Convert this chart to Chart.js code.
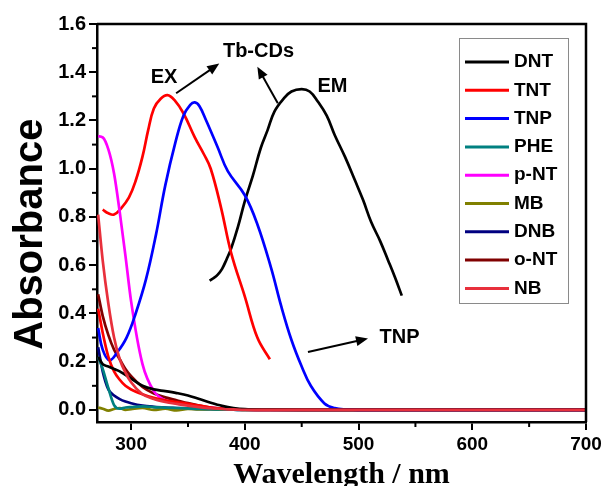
<!DOCTYPE html>
<html>
<head>
<meta charset="utf-8">
<script src="https://cdn.jsdelivr.net/npm/chart.js@4.4.0/dist/chart.umd.min.js"></script>
<style>
  body { margin: 0; background: #fff; }
  canvas { display: block; }
</style>
</head>
<body>
<canvas id="grafico" width="605" height="486"></canvas>
<script>
// grade comum das curvas de absorcao pequenas (nm)
const comprimentos = [271, 275, 280, 285, 290, 295, 300, 310, 320, 330, 340, 350, 360, 370, 380, 390, 400, 420, 450, 500, 600, 700];

const dnt  = [0.22, 0.19, 0.18, 0.17, 0.16, 0.145, 0.13, 0.10, 0.085, 0.078, 0.07, 0.06, 0.045, 0.03, 0.017, 0.008, 0.003, 0.001, 0, 0, 0, 0];
const tnt  = [0.42, 0.32, 0.22, 0.16, 0.125, 0.10, 0.085, 0.065, 0.05, 0.04, 0.033, 0.025, 0.018, 0.01, 0.006, 0.003, 0.001, 0, 0, 0, 0, 0];
const phe  = [0.22, 0.17, 0.09, 0.02, 0.005, 0.01, 0.012, 0.015, 0.012, 0.01, 0.008, 0.006, 0.004, 0.003, 0.002, 0.001, 0, 0, 0, 0, 0, 0];
const pnt  = [1.135, 1.13, 1.08, 0.98, 0.82, 0.64, 0.45, 0.19, 0.078, 0.04, 0.027, 0.02, 0.014, 0.009, 0.005, 0.003, 0.001, 0, 0, 0, 0, 0];
const mb   = [0.01, 0.005, -0.003, 0.004, 0.008, 0.0, 0.003, 0.008, 0.0, 0.005, -0.002, 0.004, 0.002, 0.003, 0.001, 0.002, 0, 0, 0, 0, 0, 0];
const dnb  = [0.26, 0.16, 0.085, 0.06, 0.045, 0.035, 0.028, 0.018, 0.013, 0.01, 0.008, 0.006, 0.004, 0.003, 0.002, 0.001, 0, 0, 0, 0, 0, 0];
const ont  = [0.48, 0.39, 0.31, 0.25, 0.21, 0.17, 0.14, 0.095, 0.068, 0.052, 0.04, 0.028, 0.018, 0.01, 0.005, 0.002, 0.001, 0, 0, 0, 0, 0];
const nb   = [0.81, 0.62, 0.44, 0.30, 0.21, 0.155, 0.115, 0.065, 0.045, 0.033, 0.025, 0.018, 0.012, 0.007, 0.004, 0.002, 0, 0, 0, 0, 0, 0];

// TNP tem banda larga
const tnpX = [271, 275, 281, 288, 296, 304, 313, 322, 330, 339, 346, 352, 356, 360, 366, 376, 385, 400, 411, 423, 432, 441, 450, 458, 470, 479, 490, 500, 600, 700];
const tnpY = [0.34, 0.25, 0.206, 0.24, 0.30, 0.40, 0.54, 0.73, 0.93, 1.11, 1.22, 1.265, 1.275, 1.26, 1.20, 1.09, 0.99, 0.89, 0.77, 0.59, 0.43, 0.29, 0.18, 0.10, 0.027, 0.008, 0.002, 0, 0, 0];

// espectros do Tb-CDs (excitacao e emissao)
const exX = [275, 280, 285, 291, 298, 304, 310, 315, 320, 326, 332, 338, 346, 356, 364, 370, 379, 388, 400, 411, 422];
const exY = [0.83, 0.815, 0.81, 0.835, 0.88, 0.95, 1.05, 1.16, 1.25, 1.29, 1.305, 1.285, 1.23, 1.13, 1.06, 1.0, 0.84, 0.65, 0.47, 0.30, 0.21];
const emX = [369, 372, 376, 380, 384, 388, 394, 400, 407, 414, 420, 426, 434, 441, 450, 457, 464, 472, 479, 488, 497, 504, 511, 519, 526, 532, 538];
const emY = [0.536, 0.545, 0.56, 0.585, 0.625, 0.67, 0.76, 0.866, 0.97, 1.086, 1.16, 1.237, 1.29, 1.32, 1.33, 1.32, 1.28, 1.22, 1.14, 1.05, 0.95, 0.87, 0.78, 0.70, 0.62, 0.55, 0.474];

const ticksX = [300, 400, 500, 600, 700];
const ticksY = [0, 0.2, 0.4, 0.6, 0.8, 1.0, 1.2, 1.4, 1.6];
const menoresX = [350, 450, 550, 650];
const menoresY = [0.1, 0.3, 0.5, 0.7, 0.9, 1.1, 1.3, 1.5];

// textos e setas, em unidades dos eixos
const anotacoes = [
  { texto: "Tb-CDs", x: 412, y: 1.485 },
  { texto: "EX", x: 329, y: 1.38 },
  { texto: "EM", x: 477, y: 1.34 },
  { texto: "TNP", x: 536, y: 0.30 }
];
const setas = [
  { x1: 339.6, y1: 1.313, x2: 377.5, y2: 1.436 },
  { x1: 429, y1: 1.271, x2: 411, y2: 1.423 },
  { x1: 455.5, y1: 0.240, x2: 508.3, y2: 0.296 }
];

const FONTE = '"Liberation Sans", Arial, sans-serif';

function serie(label, cor, xs, ys, extra) {
  return Object.assign({
    label: label,
    data: xs.map((x, i) => ({ x: x, y: ys[i] })),
    borderColor: cor,
    backgroundColor: cor,
    borderWidth: 2.7,
    pointRadius: 0,
    cubicInterpolationMode: 'monotone',
    fill: false,
    order: 1
  }, extra || {});
}

// curvas largas ficam mais lisas com tensao
const liso = { cubicInterpolationMode: 'default', tension: 0.4 };

const datasets = [
  serie("DNT", "#000000", comprimentos, dnt),
  serie("TNT", "#ff0000", comprimentos, tnt),
  serie("TNP", "#0000ff", tnpX, tnpY, liso),
  serie("PHE", "#008080", comprimentos, phe),
  serie("p-NT", "#ff00ff", comprimentos, pnt),
  serie("MB", "#808000", comprimentos, mb),
  serie("DNB", "#000080", comprimentos, dnb),
  serie("o-NT", "#800000", comprimentos, ont),
  serie("NB", "#e8303c", comprimentos, nb, { order: 0 }),
  serie("EX", "#ff0000", exX, exY, Object.assign({ semLegenda: true }, liso)),
  serie("EM", "#000000", emX, emY, Object.assign({ semLegenda: true }, liso))
];

const molduraPlugin = {
  id: 'moldura',
  afterDraw(chart) {
    const ctx = chart.ctx;
    const a = chart.chartArea;
    const sx = chart.scales.x, sy = chart.scales.y;
    ctx.save();
    ctx.strokeStyle = '#000';
    ctx.lineWidth = 2.5;
    ctx.beginPath();
    ctx.moveTo(a.left, a.top);
    ctx.lineTo(a.right, a.top);
    ctx.lineTo(a.right, a.bottom);
    ctx.stroke();

    // ticks menores
    ctx.lineWidth = 2;
    menoresY.forEach(v => {
      const y = sy.getPixelForValue(v);
      ctx.beginPath(); ctx.moveTo(a.left - 5, y); ctx.lineTo(a.left, y); ctx.stroke();
    });
    menoresX.forEach(v => {
      const x = sx.getPixelForValue(v);
      ctx.beginPath(); ctx.moveTo(x, a.bottom); ctx.lineTo(x, a.bottom + 5); ctx.stroke();
    });

    // anotacoes
    ctx.fillStyle = '#000';
    ctx.font = 'bold 20px ' + FONTE;
    ctx.textAlign = 'center';
    ctx.textBaseline = 'middle';
    anotacoes.forEach(t => {
      ctx.fillText(t.texto, sx.getPixelForValue(t.x), sy.getPixelForValue(t.y));
    });
    ctx.lineWidth = 2;
    setas.forEach(s => {
      const x1 = sx.getPixelForValue(s.x1), y1 = sy.getPixelForValue(s.y1);
      const x2 = sx.getPixelForValue(s.x2), y2 = sy.getPixelForValue(s.y2);
      const ang = Math.atan2(y2 - y1, x2 - x1);
      ctx.beginPath();
      ctx.moveTo(x1, y1);
      ctx.lineTo(x2 - 8 * Math.cos(ang), y2 - 8 * Math.sin(ang));
      ctx.stroke();
      ctx.beginPath();
      ctx.moveTo(x2, y2);
      ctx.lineTo(x2 - 12 * Math.cos(ang) + 5 * Math.sin(ang), y2 - 12 * Math.sin(ang) - 5 * Math.cos(ang));
      ctx.lineTo(x2 - 12 * Math.cos(ang) - 5 * Math.sin(ang), y2 - 12 * Math.sin(ang) + 5 * Math.cos(ang));
      ctx.closePath();
      ctx.fill();
    });
    ctx.restore();
  }
};

const legendaPlugin = {
  id: 'legenda',
  afterDraw(chart) {
    const ctx = chart.ctx;
    const a = chart.chartArea;
    const itens = chart.data.datasets.filter(d => !d.semLegenda);
    const x0 = a.right - 127, y0 = a.top + 14;
    ctx.save();
    ctx.strokeStyle = '#8a8a8a';
    ctx.lineWidth = 1;
    ctx.strokeRect(x0 + 0.5, y0 + 0.5, 109, 265);
    ctx.font = 'bold 19px ' + FONTE;
    ctx.textBaseline = 'middle';
    itens.forEach((d, i) => {
      const y = y0 + 24 + i * 28.3;
      ctx.strokeStyle = d.borderColor;
      ctx.lineWidth = 3;
      ctx.beginPath(); ctx.moveTo(x0 + 6, y); ctx.lineTo(x0 + 50, y); ctx.stroke();
      ctx.fillStyle = '#000';
      ctx.fillText(d.label, x0 + 55, y);
    });
    ctx.restore();
  }
};

const ctx = document.getElementById('grafico').getContext('2d');
new Chart(ctx, {
  type: 'line',
  data: { datasets: datasets },
  plugins: [molduraPlugin, legendaPlugin],
  options: {
    responsive: false,
    animation: false,
    layout: { padding: { top: 24, right: 19, left: 0, bottom: 0 } },
    plugins: { legend: { display: false }, tooltip: { enabled: false } },
    scales: {
      x: {
        type: 'linear',
        min: 270,
        max: 700,
        afterBuildTicks: s => { s.ticks = ticksX.map(v => ({ value: v })); },
        afterFit: s => { s.height = 64; },
        border: { display: true, color: '#000', width: 2.5 },
        grid: { drawOnChartArea: false, drawTicks: true, tickLength: 8, color: '#000', lineWidth: 2 },
        ticks: { color: '#000', padding: 3, maxRotation: 0, font: { family: FONTE, size: 19, weight: 'bold' } },
        title: {
          display: true,
          text: 'Wavelength / nm',
          color: '#000',
          padding: { top: 0, bottom: 0 },
          font: { family: '"Liberation Serif", "Times New Roman", serif', size: 30, weight: 'bold', lineHeight: 0.75 }
        }
      },
      y: {
        min: -0.05,
        max: 1.6,
        afterBuildTicks: s => { s.ticks = ticksY.map(v => ({ value: v })); },
        afterFit: s => { s.width = 97; },
        border: { display: true, color: '#000', width: 2.5 },
        grid: { drawOnChartArea: false, drawTicks: true, tickLength: 8, color: '#000', lineWidth: 2 },
        ticks: { color: '#000', padding: 3, font: { family: FONTE, size: 20, weight: 'bold' }, callback: v => v.toFixed(1) },
        title: {
          display: true,
          text: 'Absorbance  ',
          color: '#000',
          padding: { top: 7, bottom: 0 },
          font: { family: FONTE, size: 40, weight: 'bold' }
        }
      }
    }
  }
});
</script>
</body>
</html>
